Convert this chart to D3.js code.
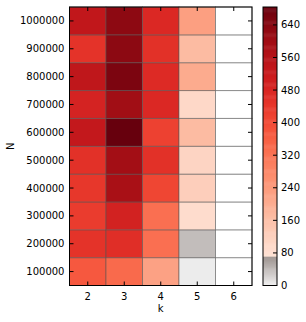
<!DOCTYPE html>
<html>
<head>
<meta charset="utf-8">
<script src="https://cdn.jsdelivr.net/npm/d3@7"></script>
<style>
  body { margin: 0; background: #fff; }
  text { font-family: "DejaVu Sans", sans-serif; font-size: 10px; fill: #000; }
</style>
</head>
<body>
<svg id="chart" width="306" height="322"></svg>
<script>
const ks = [2, 3, 4, 5, 6];
const ns = [100000, 200000, 300000, 400000, 500000, 600000, 700000, 800000, 900000, 1000000];
// values per k, listed from N=100000 up to N=1000000 (null = no data)
const k2 = [375, 450, 430, 440, 455, 530, 490, 540, 450, 535];
const k3 = [340, 460, 495, 585, 595, 684, 598, 655, 632, 630];
const k4 = [225, 330, 330, 410, 455, 420, 475, 470, 455, 475];
const k5 = [3, 38, 90, 125, 110, 170, 100, 205, 170, 230];
const k6 = [null, null, null, null, null, null, null, null, null, null];
const cbTicks = [0, 80, 160, 240, 320, 400, 480, 560, 640];
const vmax = 684;

const series = [k2, k3, k4, k5, k6];
const cells = [];
series.forEach((vals, i) => {
  vals.forEach((v, j) => cells.push({k: ks[i], n: ns[j], v: v}));
});

const margin = {top: 7, left: 69.5, right: 252, bottom: 285.5};
const svg = d3.select("#chart");

const x = d3.scaleBand().domain(ks).range([margin.left, margin.right]);
const y = d3.scaleBand().domain(ns).range([margin.bottom, margin.top]);

// reds with a grey band at the low end
const grey = d3.scaleLinear().domain([0, 70]).range(["#f0f0f0", "#9c928e"]);
const color = (v) => {
  if (v == null) return "#fff";
  if (v < 70) return grey(v);
  return d3.interpolateReds(v / vmax);
};

svg.append("g")
  .selectAll("rect")
  .data(cells)
  .enter().append("rect")
  .attr("x", d => x(d.k))
  .attr("y", d => y(d.n))
  .attr("width", x.bandwidth())
  .attr("height", y.bandwidth())
  .attr("fill", d => color(d.v))
  .attr("stroke", "#555")
  .attr("stroke-opacity", 0.55)
  .attr("stroke-width", 1);

// frame
svg.append("rect")
  .attr("x", margin.left).attr("y", margin.top)
  .attr("width", margin.right - margin.left)
  .attr("height", margin.bottom - margin.top)
  .attr("fill", "none").attr("stroke", "#000").attr("stroke-width", 1);

const tl = 4;
// x ticks (bottom and top, inward)
const xt = svg.append("g");
ks.forEach(k => {
  const cx = x(k) + x.bandwidth() / 2;
  xt.append("line").attr("x1", cx).attr("x2", cx).attr("y1", margin.bottom).attr("y2", margin.bottom - tl).attr("stroke", "#000");
  xt.append("line").attr("x1", cx).attr("x2", cx).attr("y1", margin.top).attr("y2", margin.top + tl).attr("stroke", "#000");
  xt.append("text").attr("x", cx).attr("y", margin.bottom + 14).attr("text-anchor", "middle").text(k);
});
// y ticks (left and right, inward)
const yt = svg.append("g");
ns.forEach(n => {
  const cy = y(n) + y.bandwidth() / 2;
  yt.append("line").attr("x1", margin.left).attr("x2", margin.left + tl).attr("y1", cy).attr("y2", cy).attr("stroke", "#000");
  yt.append("line").attr("x1", margin.right).attr("x2", margin.right - tl).attr("y1", cy).attr("y2", cy).attr("stroke", "#000");
  yt.append("text").attr("x", margin.left - 5).attr("y", cy).attr("dy", "0.35em").attr("text-anchor", "end").text(n);
});

svg.append("text").attr("x", (margin.left + margin.right) / 2).attr("y", 312).attr("text-anchor", "middle").text("k");
svg.append("text").attr("transform", `translate(14,${(margin.top + margin.bottom) / 2}) rotate(-90)`)
  .attr("text-anchor", "middle").text("N");

// colorbar
const cb = {x: 263, w: 14};
const cy = d3.scaleLinear().domain([0, vmax]).range([margin.bottom, margin.top]);
const steps = d3.range(0, vmax, vmax / 256);
svg.append("g")
  .selectAll("rect")
  .data(steps)
  .enter().append("rect")
  .attr("x", cb.x)
  .attr("y", d => cy(d + vmax / 256))
  .attr("width", cb.w)
  .attr("height", d => cy(d) - cy(d + vmax / 256) + 0.5)
  .attr("fill", d => color(d));
svg.append("rect")
  .attr("x", cb.x).attr("y", margin.top)
  .attr("width", cb.w).attr("height", margin.bottom - margin.top)
  .attr("fill", "none").attr("stroke", "#000");
const cbt = svg.append("g");
cbTicks.forEach(t => {
  cbt.append("line").attr("x1", cb.x + cb.w).attr("x2", cb.x + cb.w - tl).attr("y1", cy(t)).attr("y2", cy(t)).attr("stroke", "#000");
  cbt.append("text").attr("x", cb.x + cb.w + 4).attr("y", cy(t)).attr("dy", "0.35em").text(t);
});
</script>
</body>
</html>
